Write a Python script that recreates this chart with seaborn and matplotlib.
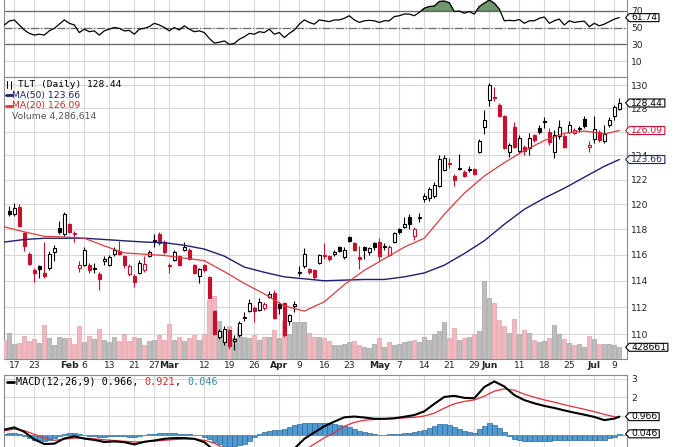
import numpy as np
import pandas as pd
import matplotlib
matplotlib.use("Agg")
import matplotlib.pyplot as plt
import matplotlib.transforms as mtransforms
from matplotlib.path import Path
from matplotlib.lines import Line2D
from matplotlib.patches import Rectangle
from matplotlib.ticker import FixedLocator, FixedFormatter, NullLocator
import seaborn as sns

# ---------------- data (TLT daily, 12 Jan 2012 - 10 Jul 2012) ----------------
market_holidays = ['2012-01-16', '2012-02-20', '2012-04-06', '2012-05-28', '2012-07-04']
nan = np.nan
opens = [nan,
 119.5, 119.2, 119.8, 117.7, 116.1, 114.8, 115.1, 114.6, 115.0, 116.2,
 118.1, 117.6, 118.4, 117.6, 115.0, 115.2, 115.2, 114.9, 114.5, 115.5,
 115.2, 116.1, 116.3, 115.9, 114.5, 114.4, 114.6, 114.8, 115.9, 117.1,
 117.6, 117.0, 115.2, 115.6, 115.9, 116.4, 116.4, 115.2, 114.4, 115.2,
 114.3, 111.7, 109.8, 109.4, 110.3, 109.5, 109.9, 111.2, 111.7, 111.9,
 111.8, 111.9, 112.8, 113.1, 112.2, 112.3, 111.0, 112.1, 114.6, 115.1,
 114.9, 114.8, 115.4, 116.0, 115.9, 116.1, 116.6, 115.8, 117.4, 116.9,
 115.8, 116.6, 116.2, 116.9, 117.0, 116.6, 116.0, 117.0, 118.0, 118.2,
 119.0, 117.5, 118.9, 120.4, 120.5, 120.7, 121.5, 122.8, 123.3, 122.3,
 122.9, 122.6, 122.8, 122.9, 124.3, 126.4, 128.7, 128.9, 128.3, 127.3,
 124.3, 126.4, 124.4, 124.7, 124.6, 125.7, 126.3, 126.8, 126.0, 124.3,
 125.6, 125.6, 126.0, 125.9, 126.2, 127.1, 124.7, 125.4, 126.0, 125.2,
 126.6, 127.3, 127.9]
highs = [nan,
 119.9, 120.1, 120.0, 117.8, 116.2, 115.0, 115.2, 117.0, 116.3, 116.8,
 118.7, 119.4, 118.5, 117.9, 115.5, 116.6, 115.4, 115.4, 114.7, 115.9,
 116.0, 116.6, 117.1, 116.0, 115.3, 114.5, 115.6, 115.9, 116.4, 117.6,
 117.8, 117.2, 115.4, 116.4, 116.0, 117.0, 116.5, 115.3, 115.0, 115.3,
 114.4, 111.8, 110.4, 110.6, 110.4, 109.9, 111.0, 111.6, 112.6, 112.1,
 112.7, 112.4, 113.2, 113.3, 112.4, 112.4, 111.5, 112.5, 115.1, 116.5,
 115.0, 114.9, 116.1, 116.9, 116.0, 116.4, 116.7, 116.6, 117.5, 117.0,
 116.7, 116.7, 116.6, 117.0, 117.3, 116.9, 116.8, 117.8, 118.1, 119.0,
 119.2, 118.2, 119.3, 120.9, 121.4, 121.8, 124.0, 124.0, 123.8, 122.5,
 124.1, 122.8, 123.1, 123.0, 125.4, 127.8, 130.2, 129.8, 128.4, 127.4,
 125.0, 126.8, 125.7, 124.9, 125.9, 125.8, 126.6, 127.2, 126.3, 126.1,
 127.0, 125.8, 126.9, 126.3, 126.5, 127.3, 125.2, 127.3, 126.1, 126.6,
 127.2, 128.3, 128.9]
lows = [nan,
 119.1, 119.1, 118.2, 116.3, 115.2, 113.9, 114.2, 114.2, 114.8, 115.5,
 117.6, 117.5, 117.7, 117.0, 114.7, 115.1, 114.6, 114.6, 113.3, 115.2,
 115.1, 115.9, 116.0, 115.0, 114.4, 113.5, 114.5, 114.7, 115.8, 116.6,
 116.8, 116.1, 114.6, 115.5, 115.1, 116.3, 115.6, 114.5, 113.8, 114.7,
 112.6, 109.9, 109.6, 109.2, 108.9, 108.8, 109.8, 111.0, 111.6, 110.9,
 111.7, 111.8, 112.7, 111.1, 111.5, 109.8, 110.7, 111.6, 114.4, 115.0,
 114.5, 114.1, 115.3, 115.7, 115.5, 115.9, 116.2, 115.7, 117.0, 116.3,
 114.9, 115.7, 116.0, 116.4, 115.6, 116.4, 115.9, 116.9, 117.6, 118.1,
 118.0, 117.2, 118.6, 120.2, 120.3, 120.5, 121.4, 122.7, 123.0, 121.5,
 122.8, 122.2, 122.6, 122.4, 124.2, 125.8, 128.2, 128.6, 127.2, 124.5,
 123.9, 124.6, 124.2, 124.0, 124.0, 125.1, 125.8, 126.3, 124.9, 123.8,
 125.4, 124.6, 125.9, 125.8, 126.0, 126.3, 124.3, 125.0, 125.1, 125.0,
 126.4, 127.0, 127.8]
closes = [118.9,
 119.2, 119.7, 118.3, 116.7, 115.3, 114.6, 114.9, 114.4, 116.1, 116.5,
 117.8, 119.2, 117.8, 117.7, 115.2, 116.4, 114.8, 115.0, 114.1, 115.7,
 115.8, 116.4, 116.1, 115.2, 115.1, 113.9, 115.4, 115.3, 116.2, 117.2,
 116.9, 116.2, 115.1, 116.2, 115.2, 116.6, 115.7, 114.6, 114.9, 114.8,
 112.7, 110.0, 110.2, 110.4, 109.1, 109.6, 110.8, 111.3, 112.3, 111.7,
 112.4, 112.2, 113.0, 111.2, 111.9, 109.9, 111.4, 112.2, 114.7, 116.1,
 114.7, 114.3, 116.0, 115.9, 115.7, 116.2, 116.3, 116.35, 117.1, 116.4,
 115.7, 116.4, 116.5, 116.6, 115.9, 116.7, 116.6, 117.7, 117.8, 118.4,
 118.45, 118.0, 119.0, 120.7, 121.2, 121.6, 123.7, 123.75, 123.4, 122.0,
 123.0, 122.3, 122.9, 122.5, 125.2, 127.0, 130.0, 129.0, 127.3, 124.6,
 124.9, 124.7, 125.5, 124.4, 125.5, 125.3, 126.0, 126.9, 125.1, 125.7,
 126.4, 124.7, 126.6, 126.1, 126.3, 126.5, 124.9, 126.2, 125.3, 125.8,
 127.0, 128.1, 128.44]
volume_m = [6.9,
 9.3, 5.5, 5.7, 8.3, 6.6, 7.1, 5.9, 12.2, 7.5, 5.1,
 7.8, 7.5, 7.5, 5.5, 11.9, 6.2, 8.3, 7.1, 10.7, 6.9,
 6.2, 8.0, 6.6, 9.0, 6.6, 8.0, 7.5, 5.1, 6.5, 7.0,
 8.5, 7.0, 12.5, 7.0, 8.0, 6.5, 7.5, 8.5, 7.0, 9.0,
 21.0, 22.5, 13.5, 10.0, 12.0, 7.5, 11.5, 8.0, 7.5, 8.5,
 7.0, 8.0, 8.0, 10.5, 7.5, 13.5, 9.0, 13.4, 13.4, 13.4,
 9.5, 8.0, 8.0, 7.5, 6.5, 5.0, 5.0, 5.5, 6.0, 6.5,
 5.0, 4.5, 4.0, 5.5, 7.5, 4.5, 6.0, 5.0, 5.5, 6.0,
 6.5, 7.0, 6.0, 8.0, 7.0, 9.0, 10.0, 13.3, 7.5, 11.0,
 7.0, 7.5, 8.0, 9.0, 10.0, 28.0, 22.0, 20.0, 14.0, 12.0,
 9.5, 14.5, 9.0, 10.5, 9.5, 7.0, 6.3, 6.5, 7.5, 12.2,
 9.2, 7.4, 5.9, 5.0, 5.4, 4.4, 8.2, 7.4, 5.6, 5.6,
 5.6, 5.0, 4.29]
rsi14 = [53, 57.7, 58.9, 53, 47, 43, 41, 42, 41, 46,
 49, 54, 59, 55, 53, 44, 48, 45, 46, 41,
 46, 48, 50, 49, 46, 46.5, 42, 48, 49, 51,
 55, 53, 50, 46, 50, 47, 52, 48, 45, 46,
 44, 37, 31.5, 32.5, 34, 30, 31, 36, 39, 43,
 42, 45, 44, 48, 42, 44, 38, 43, 47, 54,
 59, 56, 54, 59, 58, 57, 59, 59, 61, 64,
 59, 56, 58, 58.5, 58, 56, 58, 58, 63, 64,
 66, 66, 64, 68, 73, 75, 75.5, 81, 81.5, 79.5,
 69, 69.6, 67, 69, 66, 75, 79, 82.7, 79, 72,
 58, 58.5, 58, 59.5, 55, 58, 58, 61, 62.5, 55,
 58, 60, 53, 58, 56, 57, 57.5, 51, 55, 52,
 54, 57, 60, 61.74]
macd_hist = [0.06, 0.07, 0.09, 0.02, -0.07, -0.17, -0.27, -0.31, -0.32, -0.26,
 -0.18, -0.08, 0.03, 0.08, 0.09, 0.03, -0.03, -0.05, -0.06, -0.10,
 -0.12, -0.07, -0.05, -0.05, -0.06, -0.11, -0.13, -0.06, -0.01, 0.03,
 0.06, 0.09, 0.09, 0.08, 0.07, 0.06, 0.05, 0.03, 0.01, -0.03,
 -0.10, -0.25, -0.40, -0.52, -0.60, -0.62, -0.61, -0.57, -0.50, -0.33,
 -0.13, 0.04, 0.15, 0.20, 0.24, 0.27, 0.30, 0.40, 0.50, 0.58,
 0.62, 0.63, 0.62, 0.62, 0.62, 0.61, 0.59, 0.53, 0.47, 0.39,
 0.31, 0.22, 0.15, 0.08, 0.03, 0.01, 0.01, 0.02, 0.03, 0.05,
 0.07, 0.10, 0.13, 0.18, 0.25, 0.36, 0.48, 0.56, 0.59, 0.52,
 0.43, 0.30, 0.19, 0.12, 0.09, 0.28, 0.49, 0.61, 0.52, 0.34,
 0.13, -0.05, -0.22, -0.30, -0.32, -0.33, -0.33, -0.33, -0.32, -0.32,
 -0.31, -0.30, -0.30, -0.30, -0.30, -0.29, -0.29, -0.28, -0.28, -0.29,
 -0.31, -0.20, -0.10, 0.046]
# moving averages read every 4th session (session number from 12 Jan)
ma_session = list(range(0, 121, 4)) + [123]
ma50 = [117.0, 117.2, 117.3, 117.3, 117.3, 117.2, 117.1, 117.0, 116.95, 116.75,
 116.45, 115.9, 115.05, 114.65, 114.3, 114.15, 114.0, 114.05, 114.1, 114.1,
 114.3, 114.6, 115.2, 116.1, 117.1, 118.4, 119.6, 120.5, 121.3, 122.2,
 123.1, 123.66]
ma20 = [118.2, 117.8, 117.45, 117.4, 117.3, 116.7, 116.15, 116.05, 115.95, 115.75,
 115.55, 114.7, 113.8, 113.0, 112.1, 111.7, 112.4, 113.7, 114.8, 115.7,
 116.6, 117.3, 119.2, 120.9, 122.3, 123.4, 124.4, 125.25, 125.85, 126.05,
 125.8, 126.09]
# MACD lines read every 2nd session
macd_session = list(range(0, 123, 2)) + [123]
macd_line = [0.27, 0.39, 0.15, -0.25, -0.50, -0.48, -0.20, -0.09, -0.21, -0.28,
 -0.39, -0.36, -0.40, -0.52, -0.38, -0.31, -0.22, -0.18, -0.18, -0.22,
 -0.40, -0.85, -1.35, -1.70, -1.85, -1.62, -1.35, -1.25, -1.15, -0.75,
 -0.22, 0.12, 0.45, 0.70, 0.93, 0.97, 0.92, 0.85, 0.85, 0.88,
 0.96, 1.05, 1.25, 1.65, 2.02, 2.08, 1.97, 1.95, 2.55, 2.85,
 2.58, 2.12, 1.85, 1.68, 1.54, 1.43, 1.30, 1.18, 1.07, 0.95,
 0.78, 0.86, 0.966]
signal_line = [0.21, 0.30, 0.22, 0.02, -0.18, -0.30, -0.24, -0.18, -0.18, -0.22,
 -0.27, -0.31, -0.35, -0.39, -0.37, -0.34, -0.30, -0.26, -0.23, -0.23,
 -0.30, -0.45, -0.75, -1.10, -1.35, -1.50, -1.53, -1.50, -1.45, -1.25,
 -0.85, -0.50, -0.17, 0.10, 0.45, 0.66, 0.77, 0.82, 0.84, 0.86,
 0.90, 0.93, 1.00, 1.15, 1.42, 1.65, 1.78, 1.86, 2.06, 2.33,
 2.45, 2.38, 2.17, 2.00, 1.86, 1.74, 1.60, 1.48, 1.36, 1.23,
 1.09, 0.96, 0.921]

tick_dates = ['2012-01-17', '2012-01-23', '2012-02-01', '2012-02-06', '2012-02-13',
              '2012-02-21', '2012-02-27', '2012-03-01', '2012-03-12', '2012-03-19',
              '2012-03-26', '2012-04-02', '2012-04-09', '2012-04-16', '2012-04-23',
              '2012-05-01', '2012-05-07', '2012-05-14', '2012-05-21', '2012-05-29',
              '2012-06-01', '2012-06-11', '2012-06-18', '2012-06-25', '2012-07-02',
              '2012-07-09']
tick_labels = ['17', '23', 'Feb', '6', '13', '21', '27', 'Mar', '12', '19', '26', 'Apr',
               '9', '16', '23', 'May', '7', '14', '21', '29', 'Jun', '11', '18', '25',
               'Jul', '9']
month_labels = {'Feb', 'Mar', 'Apr', 'May', 'Jun', 'Jul'}
price_ticks = [110, 112, 114, 116, 118, 120, 122, 124, 126, 128, 130]
# 126 sits fully under the 126.09 value tag in the reference
price_tick_labels = ['110', '112', '114', '116', '118', '120', '122', '124', '', '128', '130']
rsi_ticks = [10, 30, 50, 70]
macd_ticks = [0, 1, 2, 3]
# 0 and 1 sit fully under the value tags in the reference
macd_tick_labels = ['', '', '2', '3']

# ---------------- style ----------------
sns.set_style("white")
plt.rcParams['font.family'] = ['DejaVu Sans']

W, H = 675, 447
RED = '#c8102e'
NAVY = '#20206e'
MA20C = '#d83c3c'
GRID = '#d8d8d8'
FRAME = '#8a8a8a'
PINK = '#f2b8c0'
PINK_E = '#e2a0aa'
GRAY = '#bdbdbd'
GRAY_E = '#a2a2a2'
TXT = '#222222'
FS = 6.6

days = pd.bdate_range('2012-01-12', '2012-07-10')
days = days[~days.isin(pd.to_datetime(market_holidays))]
pos = np.arange(len(days))

O = np.array(opens, float)
Hh = np.array(highs, float)
Lo = np.array(lows, float)
C = np.array(closes, float)
V = np.array(volume_m, float)
R = np.array(rsi14, float)
HIST = np.array(macd_hist, float)

prev_c = np.r_[np.nan, C[:-1]]
up = C >= prev_c
ccol = np.where(up, 'black', RED)
valid = ~np.isnan(O)
hollow = C > O


def tag_shape(x0, y0, width, height, mutation_size):
    pad = 0.2 * mutation_size
    x0 -= pad
    width += 2 * pad
    y0 += 0.5
    height -= 1.0
    tip = 0.45 * height
    verts = [(x0, y0), (x0 + width, y0), (x0 + width, y0 + height),
             (x0, y0 + height), (x0 - tip, y0 + height / 2.0), (x0, y0)]
    codes = [Path.MOVETO, Path.LINETO, Path.LINETO, Path.LINETO, Path.LINETO, Path.CLOSEPOLY]
    return Path(verts, codes)


def fr(x0, y0, x1, y1):
    return [x0 / W, 1 - y1 / H, (x1 - x0) / W, (y1 - y0) / H]


fig = plt.figure(figsize=(W / 100, H / 100), dpi=100, facecolor='white')
ax_r = fig.add_axes(fr(4, -2, 627, 77))
ax = fig.add_axes(fr(4, 77, 627, 359.3), sharex=ax_r)
ax_v = ax.twinx()
ax_c = fig.add_axes(fr(4, 77, 627, 359.3), sharex=ax, sharey=ax, label='price')
ax_m = fig.add_axes(fr(4, 375, 627, 449), sharex=ax)

ax.set_zorder(1)
ax_v.set_zorder(2)
ax_c.set_zorder(3)
ax_v.patch.set_visible(False)
ax_c.patch.set_visible(False)

tick_pos = days.get_indexer(pd.to_datetime(tick_dates))
ax.set_xlim(-0.06, 124.54)
ax.set_xticks(tick_pos)
ax.set_xticklabels(tick_labels)
for lbl, t in zip(ax.get_xticklabels(), tick_labels):
    if t in month_labels:
        lbl.set_fontweight('bold')

# ---- main price panel ----
ax.set_yscale('log')
ax.set_ylim(108.15, 130.70)
ax.yaxis.set_major_locator(FixedLocator(price_ticks))
ax.yaxis.set_major_formatter(FixedFormatter(price_tick_labels))
ax.yaxis.set_minor_locator(NullLocator())
ax.yaxis.tick_right()
ax.grid(True, color=GRID, lw=0.8)
ax.set_axisbelow(True)
ax.tick_params(axis='y', length=0, pad=3, labelsize=FS, labelcolor=TXT)
ax.tick_params(axis='x', length=0, pad=1.5, labelsize=FS, labelcolor=TXT)

# volume
vcol = np.where(up, GRAY, PINK)
vedge = np.where(up, GRAY_E, PINK_E)
ax_v.bar(pos, V, width=0.82, color=vcol, edgecolor=vedge, linewidth=0.5)
ax_v.set_ylim(0, 100.8)
ax_v.set_yticks([])
for s in ax_v.spines.values():
    s.set_visible(False)

# candles
ax_c.vlines(pos[valid], Lo[valid], Hh[valid], colors=ccol[valid], lw=0.8, zorder=2)
body_lo = np.minimum(O, C)
body_h = np.maximum(np.abs(C - O), 0.03)
face = np.where(hollow, 'white', ccol)
ax_c.bar(pos[valid], body_h[valid], bottom=body_lo[valid], width=0.62,
         color=face[valid], edgecolor=ccol[valid], linewidth=0.8, zorder=3)

ma_df = pd.DataFrame({'session': ma_session, 'ma50': ma50, 'ma20': ma20})
sns.lineplot(data=ma_df, x='session', y='ma50', ax=ax_c, color=NAVY, lw=1.0,
             estimator=None, legend=False, zorder=4)
sns.lineplot(data=ma_df, x='session', y='ma20', ax=ax_c, color=MA20C, lw=0.9,
             estimator=None, legend=False, zorder=4)
ax_c.set_ylim(108.15, 130.70)
ax_c.set_xlim(-0.06, 124.54)
ax_c.axis('off')

for s in ax.spines.values():
    s.set_color(FRAME)
    s.set_linewidth(0.8)

# value tags (main)
tr_p = mtransforms.blended_transform_factory(ax_c.transAxes, ax_c.transData)
tr_v = mtransforms.blended_transform_factory(ax_c.transAxes, ax_v.transData)
tagx = 1.0065


def tag(axis, y, text, color, trans):
    axis.text(tagx, y, text, transform=trans, fontsize=FS, color=color, va='center',
              ha='left', zorder=20, clip_on=False,
              bbox=dict(boxstyle=tag_shape, fc='white', ec=color, lw=0.8))


tag(ax_c, closes[-1], f'{closes[-1]:.2f}', 'black', tr_p)
tag(ax_c, ma20[-1], f'{ma20[-1]:.2f}', RED, tr_p)
tag(ax_c, ma50[-1], f'{ma50[-1]:.2f}', NAVY, tr_p)
tag(ax_c, volume_m[-1], '428661', 'black', tr_v)

# ---- RSI panel ----
sns.lineplot(x=pos, y=R, ax=ax_r, color='black', lw=0.9, estimator=None, legend=False, zorder=4)
ax_r.fill_between(pos, R, 70, where=R >= 70, interpolate=True, color='#5f8d5f',
                  alpha=0.9, lw=0.6, edgecolor='#3e6a3e', zorder=3)
ax_r.set_ylim(-8.93, 85.12)
ax_r.set_yticks(rsi_ticks)
ax_r.yaxis.tick_right()
ax_r.grid(True, color=GRID, lw=0.8)
ax_r.set_axisbelow(True)
ax_r.axhline(70, color='#6a6a6a', lw=0.9, zorder=2)
ax_r.axhline(30, color='#6a6a6a', lw=0.9, zorder=2)
ax_r.axhline(50, color='#6a6a6a', lw=0.9, ls='-.', zorder=2)
ax_r.tick_params(axis='y', length=0, pad=3, labelsize=FS, labelcolor=TXT)
ax_r.tick_params(axis='x', length=0, labelbottom=False)
ax_r.set_ylabel('')
for s in ax_r.spines.values():
    s.set_color(FRAME)
    s.set_linewidth(0.8)
tr_r = mtransforms.blended_transform_factory(ax_r.transAxes, ax_r.transData)
tag(ax_r, rsi14[-1], f'{rsi14[-1]:.2f}', 'black', tr_r)

# ---- MACD panel ----
ax_m.bar(pos, HIST, width=1.0, color='#4f9ad2', edgecolor='#2c6a9a', linewidth=0.5, zorder=2)
ax_m.axhline(0, color='#8a8a8a', lw=0.6, zorder=2)
macd_df = pd.DataFrame({'session': macd_session, 'macd': macd_line, 'signal': signal_line})
sns.lineplot(data=macd_df, x='session', y='signal', ax=ax_m, color='#e0303a', lw=0.9,
             estimator=None, legend=False, zorder=4)
sns.lineplot(data=macd_df, x='session', y='macd', ax=ax_m, color='black', lw=1.5,
             estimator=None, legend=False, zorder=5)
ax_m.set_ylim(-0.765, 3.193)
ax_m.yaxis.set_major_locator(FixedLocator(macd_ticks))
ax_m.yaxis.set_major_formatter(FixedFormatter(macd_tick_labels))
ax_m.yaxis.tick_right()
ax_m.grid(True, color=GRID, lw=0.8)
ax_m.set_axisbelow(True)
ax_m.tick_params(axis='y', length=0, pad=3, labelsize=FS, labelcolor=TXT)
ax_m.tick_params(axis='x', length=0, labelbottom=False)
ax_m.set_xlabel('')
ax_m.set_ylabel('')
for s in ax_m.spines.values():
    s.set_color(FRAME)
    s.set_linewidth(0.8)
tr_m = mtransforms.blended_transform_factory(ax_m.transAxes, ax_m.transData)
tag(ax_m, macd_line[-1], f'{macd_line[-1]:.3f}', 'black', tr_m)
tag(ax_m, macd_hist[-1], f'{macd_hist[-1]:.3f}', 'black', tr_m)

ax.set_xlim(-0.06, 124.54)

# ---------------- legends (pixel positions) ----------------
def fx(x):
    return x / W


def fy(y):
    return 1 - y / H


# TLT icon + text
fig.add_artist(Line2D([fx(7), fx(7)], [fy(80.5), fy(88)], color='black', lw=0.7))
fig.add_artist(Rectangle((fx(6), fy(86.5)), 2 / W, 4.5 / H, fc='black', ec='black', lw=0.5))
fig.add_artist(Line2D([fx(10.5), fx(10.5)], [fy(81), fy(88.5)], color='black', lw=0.7))
fig.add_artist(Rectangle((fx(9.5), fy(87)), 2 / W, 4.5 / H, fc='white', ec='black', lw=0.6))
fig.text(fx(18.5), fy(84.3), 'TLT (Daily) 128.44', family='DejaVu Sans Mono', size=6.8,
         color='black', va='center', ha='left')
# MA legend
fig.add_artist(Line2D([fx(6), fx(11.5)], [fy(95.2), fy(95.2)], color=NAVY, lw=2))
fig.text(fx(12.5), fy(95.2), 'MA(50) 123.66', size=6.7, color=NAVY, va='center', ha='left')
fig.add_artist(Line2D([fx(6), fx(11.5)], [fy(105.8), fy(105.8)], color=MA20C, lw=2))
fig.text(fx(12.5), fy(105.8), 'MA(20) 126.09', size=6.7, color='#c03030', va='center', ha='left')
for bx, bh in [(5.5, 5), (7.5, 7), (9.5, 4.5)]:
    fig.add_artist(Rectangle((fx(bx), fy(120)), 1.6 / W, bh / H, fc='#777777', ec='none'))
fig.text(fx(12.5), fy(116.7), 'Volume 4,286,614', size=6.7, color='#555555', va='center', ha='left')

# MACD legend (monospace pieces)
mfs = 7.3
cw = 0.602 * mfs * 100 / 72
mx, my = 16.5, 382.0
fig.add_artist(Line2D([fx(7), fx(13.5)], [fy(my), fy(my)], color='black', lw=2))
for txt, col, off in [('MACD(12,26,9) 0.966,', 'black', 0), ('0.921', '#cc3333', 21),
                      (',', 'black', 26), ('0.046', '#3a8aaa', 28)]:
    fig.text(fx(mx + off * cw), fy(my), txt, family='DejaVu Sans Mono', size=mfs,
             color=col, va='center', ha='left')

fig.savefig('out.png', dpi=100, facecolor='white')
